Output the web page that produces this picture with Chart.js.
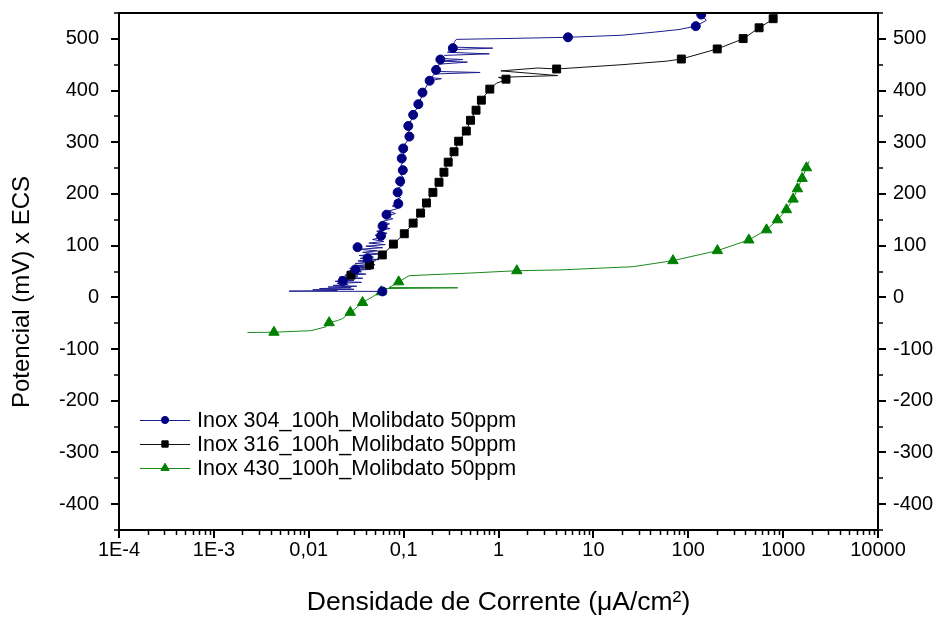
<!DOCTYPE html>
<html><head><meta charset="utf-8">
<script src="https://cdn.jsdelivr.net/npm/chart.js@4.4.1/dist/chart.umd.min.js"></script>
<style>html,body{margin:0;padding:0;background:#fff}#wrap{width:943px;height:617px}</style>
</head><body><div id="wrap"><canvas id="c" width="943" height="617"></canvas></div>
<script>
// ---------- data ----------
const seriesNames = ['Inox 304_100h_Molibdato 50ppm', 'Inox 316_100h_Molibdato 50ppm', 'Inox 430_100h_Molibdato 50ppm'];

const s304X = [0.060,0.0062,0.02,0.011,0.03,0.013,0.028,0.016,0.032,0.018,0.026,0.02,0.036,0.019,0.03,0.022,0.037,0.021,0.033,0.024,0.04,0.025,0.036,0.027,0.045,0.027,0.042,0.03,0.05,0.031,0.043,0.033,0.055,0.035,0.048,0.034,0.058,0.037,0.053,0.034,0.06,0.04,0.064,0.043,0.062,0.047,0.06,0.05,0.067,0.052,0.072,0.056,0.071,0.06,0.077,0.064,0.082,0.07,0.087,0.076,0.092,0.08,0.093,0.084,0.096,0.087,0.099,0.09,0.1,0.092,0.101,0.094,0.1,0.096,0.104,0.1,0.11,0.107,0.115,0.112,0.122,0.128,0.138,0.146,0.156,0.17,0.188,0.25,0.197,0.21,0.64,0.215,0.225,0.236,0.47,0.242,0.42,0.25,0.27,0.8,0.29,0.31,0.87,0.33,0.345,0.36,1.5,5.4,20,44,80,120,155,137,145];
const s304Y = [11.5,12,13,14.5,15.5,17,18.5,20,21.5,23,25,27,29,31,33,35,37,39,41,43,45,47,49.5,52,54,56,58.5,61,63,65.5,68,70.5,73,75.5,78,81,84,87,90,93,96,99,102,105,108,112,116,120,124,128,133,137,142,147,152,157,162,167,172,177,182,187,193,199,205,211,217,224,231,239,247,255,264,273,283,293,303,313,323,333,345,355,366,376,390,405,419,423,425,432,435,437,443,451,455,457,460,462,468,471,474,479,482,484,495,499,501,503,507,513,518,524.6,535.6,547,556];
const s304MarkX = [0.0597,0.0228,0.031,0.0327,0.0417,0.0578,0.06,0.066,0.0879,0.0865,0.092,0.098,0.0955,0.099,0.115,0.112,0.126,0.143,0.158,0.188,0.22,0.244,0.33,5.4,120,137];
const s304MarkY = [11.5,31.6,54,97,75.6,119,138,160,181,203,224.5,246,268.7,288,311,331.5,353,373.6,396,419,440,460,482,503,524.6,547];

const s316X = [0.0255,0.0279,0.0436,0.0596,0.078,0.1016,0.126,0.151,0.174,0.2035,0.236,0.266,0.295,0.34,0.38,0.458,0.507,0.58,0.66,0.81,0.95,1.2,1.0,4.2,1.06,2.6,4.1,20,60,84.5,202,379,558,785,900];
const s316Y = [40,43,62.6,82,103,123,143.6,163,182.5,203,222.6,242,261.5,281.6,302,321.7,342.5,362,381.4,402.8,414,421,425.5,429,438,443.6,441.7,450,457,461,480.5,500,521.4,538,552];
const s316MarkX = [0.0279,0.0436,0.0596,0.078,0.1016,0.126,0.151,0.174,0.2035,0.236,0.266,0.295,0.34,0.38,0.458,0.507,0.58,0.66,0.81,1.2,4.1,84.5,202,379,558,785];
const s316MarkY = [43,62.6,82,103,123,143.6,163,182.5,203,222.6,242,261.5,281.6,302,321.7,342.5,362,381.4,402.8,422,441.7,461,480.5,500.5,521.4,539];

const s430X = [0.00226,0.0043,0.0106,0.0152,0.0164,0.02,0.0228,0.025,0.0274,0.03,0.0327,0.0345,0.0369,0.042,0.047,0.052,0.058,0.065,0.372,0.07,0.075,0.0887,0.1145,0.5,1.56,4.4,26.2,69,203,435,668,872,1084,1274,1416,1585,1762,1880];
const s430Y = [-68,-67.5,-64.4,-57,-49,-45,-41,-35,-29,-24,-18.5,-14,-10,-4,1,6,10.7,17,18.5,19,22,30,42,47,51.5,53,59.3,71,90.4,111,130.6,150,169.5,190,210,230,250.6,263];
const s430MarkX = [0.0043,0.0164,0.0274,0.0369,0.058,0.0887,1.56,69,203,435,668,872,1084,1274,1416,1585,1762];
const s430MarkY = [-67.5,-49,-29,-10,10.7,30,51.5,71,90.4,111,130.6,150,169.5,190,210,230,250.6];

const xTickValues = [1e-4,1e-3,1e-2,1e-1,1,10,100,1000,10000];
const xTickLabels = ['1E-4','1E-3','0,01','0,1','1','10','100','1000','10000'];
const yTickValues = [-400,-300,-200,-100,0,100,200,300,400,500];
const yMinorValues = [-450,-350,-250,-150,-50,50,150,250,350,450,550];
const xTitle = 'Densidade de Corrente (\u03BCA/cm\u00B2)';
const yTitle = 'Potencial (mV) x ECS';

// ---------- build ----------
const pts = (xs, ys) => xs.map((x, i) => ({x: x, y: ys[i]}));
const FONT = "'Liberation Sans', Arial, sans-serif";
const colors = ['#000080', '#000000', '#008000'];
const lineColors = ['#1c1c90', '#111111', '#1a8a1a'];
const styles = ['circle', 'rect', 'triangle'];
const radii = [4.5, 5.6, 6];
const lineSets = [[s304X, s304Y], [s316X, s316Y], [s430X, s430Y]];
const markSets = [[s304MarkX, s304MarkY], [s316MarkX, s316MarkY], [s430MarkX, s430MarkY]];

const datasets = [];
lineSets.forEach((s, i) => datasets.push({
  label: seriesNames[i], data: pts(s[0], s[1]), borderColor: lineColors[i], borderWidth: 1,
  pointRadius: 0, tension: 0, fill: false, order: 2
}));
markSets.forEach((s, i) => datasets.push({
  label: seriesNames[i] + ' markers', data: pts(s[0], s[1]), showLine: false,
  pointStyle: styles[i], pointRadius: radii[i], pointBackgroundColor: colors[i],
  pointBorderColor: colors[i], pointBorderWidth: 1, order: 1
}));

function drawMarker(ctx, style, x, y, r, color) {
  ctx.save();
  ctx.fillStyle = color; ctx.strokeStyle = color; ctx.lineWidth = 1;
  ctx.beginPath();
  if (style === 'circle') { ctx.arc(x, y, r, 0, Math.PI * 2); }
  else if (style === 'rect') { const s = r * Math.SQRT1_2; ctx.rect(x - s, y - s, 2 * s, 2 * s); }
  else { ctx.moveTo(x, y - r); ctx.lineTo(x + r * 0.866, y + r * 0.5); ctx.lineTo(x - r * 0.866, y + r * 0.5); ctx.closePath(); }
  ctx.fill(); ctx.stroke();
  ctx.restore();
}

const framePlugin = {
  id: 'frame',
  afterDraw(chart) {
    const ctx = chart.ctx, a = chart.chartArea;
    const xs = chart.scales.x, ys = chart.scales.y;
    ctx.save();
    ctx.strokeStyle = '#000';
    ctx.lineWidth = 2;
    ctx.strokeRect(a.left, a.top, a.right - a.left, a.bottom - a.top);
    ctx.beginPath();
    yTickValues.forEach(v => {
      const p = Math.round(ys.getPixelForValue(v));
      ctx.moveTo(a.left - 8, p); ctx.lineTo(a.left, p);
      ctx.moveTo(a.right, p); ctx.lineTo(a.right + 8, p);
    });
    xTickValues.forEach(v => {
      const p = Math.round(xs.getPixelForValue(v));
      ctx.moveTo(p, a.bottom); ctx.lineTo(p, a.bottom + 8);
    });
    ctx.stroke();
    ctx.lineWidth = 1.5;
    ctx.beginPath();
    yMinorValues.forEach(v => {
      const p = Math.round(ys.getPixelForValue(v));
      ctx.moveTo(a.left - 5, p); ctx.lineTo(a.left, p);
      ctx.moveTo(a.right, p); ctx.lineTo(a.right + 5, p);
    });
    for (let d = 0; d < xTickValues.length - 1; d++) {
      for (let m = 2; m <= 9; m++) {
        const p = Math.round(xs.getPixelForValue(xTickValues[d] * m)) + 0.5;
        ctx.moveTo(p, a.bottom); ctx.lineTo(p, a.bottom + 5);
      }
    }
    ctx.stroke();

    // y axis title
    ctx.save();
    ctx.translate(22, 292);
    ctx.rotate(-Math.PI / 2);
    ctx.font = '24px ' + FONT;
    ctx.fillStyle = '#000';
    ctx.textAlign = 'center';
    ctx.textBaseline = 'middle';
    ctx.fillText(yTitle, 0, 0);
    ctx.restore();

    // legend
    const rowY = [420, 444, 468];
    ctx.font = '21.5px ' + FONT;
    ctx.textBaseline = 'middle';
    ctx.textAlign = 'left';
    seriesNames.forEach((name, i) => {
      const y = rowY[i];
      ctx.strokeStyle = lineColors[i]; ctx.lineWidth = 1;
      ctx.beginPath(); ctx.moveTo(140, y + 0.5); ctx.lineTo(190, y + 0.5); ctx.stroke();
      drawMarker(ctx, styles[i], 165, y, radii[i] * 0.8, colors[i]);
      ctx.fillStyle = '#000';
      ctx.fillText(name, 197, y + 1);
    });
    ctx.restore();
  }
};

const yTicksCommon = {
  color: '#000', font: {size: 20, family: FONT}, padding: 12,
  callback: v => String(v)
};
const gridHidden = {display: true, drawOnChartArea: false, drawTicks: true, tickLength: 8, color: 'rgba(0,0,0,0)', tickColor: 'rgba(0,0,0,0)'};
const fixV = w => s => { s.width = w; s.paddingTop = 0; s.paddingBottom = 0; };

new Chart(document.getElementById('c'), {
  type: 'line',
  data: {datasets: datasets},
  options: {
    responsive: false, animation: false, devicePixelRatio: 1,
    layout: {padding: {top: 13, left: 0, right: 0, bottom: 0}},
    plugins: {legend: {display: false}, tooltip: {enabled: false}},
    scales: {
      x: {
        type: 'logarithmic', position: 'bottom', min: 1e-4, max: 1e4,
        afterBuildTicks: s => { s.ticks = xTickValues.map(v => ({value: v, major: true})); },
        afterFit: s => { s.height = 87; s.paddingLeft = 0; s.paddingRight = 0; },
        ticks: {color: '#000', font: {size: 20, family: FONT}, padding: 0, maxRotation: 0, autoSkip: false,
          callback: (v, i) => xTickLabels[i]},
        grid: gridHidden, border: {display: false},
        title: {display: true, text: xTitle, color: '#000', font: {size: 26.5, family: FONT}, padding: {top: 0, bottom: -2}}
      },
      y: {
        type: 'linear', position: 'left', min: -450, max: 550,
        afterBuildTicks: s => { s.ticks = yTickValues.map(v => ({value: v})); },
        afterFit: fixV(119),
        ticks: yTicksCommon, grid: gridHidden, border: {display: false},
        title: {display: false}
      },
      y2: {
        type: 'linear', position: 'right', min: -450, max: 550,
        afterBuildTicks: s => { s.ticks = yTickValues.map(v => ({value: v})); },
        afterFit: fixV(65),
        ticks: Object.assign({}, yTicksCommon, {padding: 7}), grid: gridHidden, border: {display: false}
      }
    }
  },
  plugins: [framePlugin]
});
</script>
</body></html>
